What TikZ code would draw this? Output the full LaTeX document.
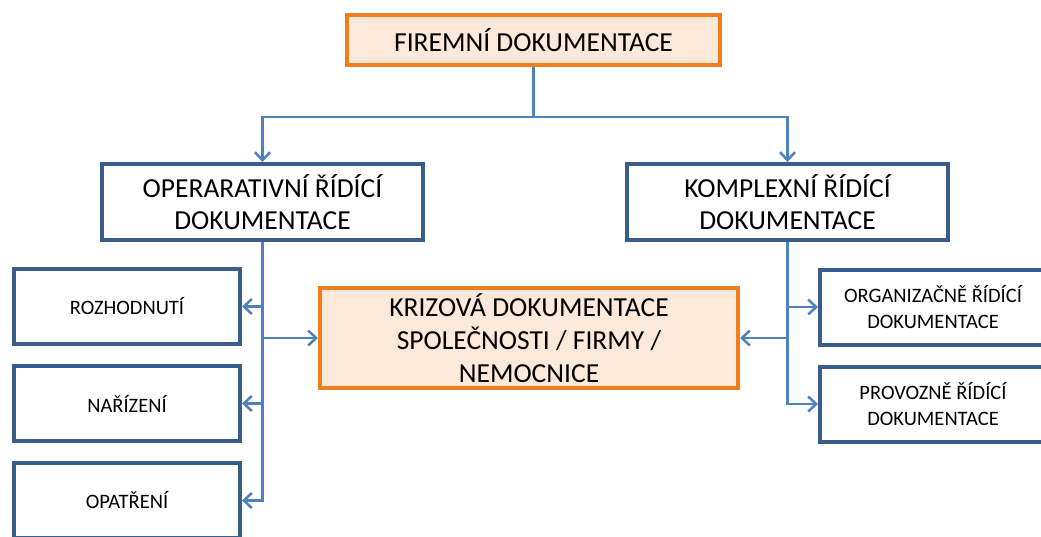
\documentclass[tikz,border=0pt]{standalone}
\usepackage{fontspec}
\setmainfont{Carlito}
\usetikzlibrary{arrows.meta,positioning}
\definecolor{boxblue}{HTML}{385D8A}
\definecolor{lineblue}{HTML}{4F81BD}
\definecolor{boxorange}{HTML}{EF7E1E}
\definecolor{peach}{HTML}{FDE9D9}
\tikzset{
    mainbox/.style={rectangle,draw=boxorange,fill=peach,line width=4pt,inner sep=0pt,align=center,
        font=\fontsize{27.5}{33}\selectfont},
    bigbox/.style={rectangle,draw=boxblue,line width=4pt,inner sep=0pt,align=center,
        minimum width=321pt,minimum height=76pt,font=\fontsize{27.5}{32}\selectfont},
    smallbox/.style={rectangle,draw=boxblue,line width=4pt,inner sep=0pt,align=center,
        minimum width=226pt,minimum height=75pt,font=\fontsize{20.5}{26}\selectfont},
    conn/.style={-{Straight Barb[length=8pt,width=15pt]},draw=lineblue,line width=2.5pt},
    bar/.style={-,draw=lineblue,line width=2.5pt}
}

\begin{document}
\begin{tikzpicture}[x=1pt,y=1pt]
    \useasboundingbox (0,0) rectangle (1041,-536);

    \node[mainbox,minimum width=373pt,minimum height=50pt] (firemni) at (533.5,-40) {FIREMNÍ DOKUMENTACE};

    \node[bigbox] (operativni) at (262.5,-202) {OPERARATIVNÍ ŘÍDÍCÍ\\DOKUMENTACE};
    \node[bigbox] (komplexni)  at (787.5,-202) {KOMPLEXNÍ ŘÍDÍCÍ\\DOKUMENTACE};

    \node[mainbox,minimum width=418pt,minimum height=100pt] (krizova) at (529,-338)
        {KRIZOVÁ DOKUMENTACE\\SPOLEČNOSTI / FIRMY /\\NEMOCNICE};

    \node[smallbox] (rozhodnuti) at (127,-306.5)      {ROZHODNUTÍ};
    \node[smallbox] (narizeni) [below=18pt of rozhodnuti] {NAŘÍZENÍ};
    \node[smallbox] (opatreni) [below=18pt of narizeni]   {OPATŘENÍ};

    \node[smallbox] (organizacne) at (933,-307)          {ORGANIZAČNĚ ŘÍDÍCÍ\\DOKUMENTACE};
    \node[smallbox] (provozne) [below=18pt of organizacne] {PROVOZNĚ ŘÍDÍCÍ\\DOKUMENTACE};

    \draw[bar]  (firemni.south) -- ++(0,-50) coordinate (split);
    \draw[conn] (split) -| (operativni.north);
    \draw[conn] (split) -| (komplexni.north);

    \draw[conn] (operativni.south) |- (opatreni.east);
    \draw[conn] (operativni.south |- rozhodnuti.east) -- (rozhodnuti.east);
    \draw[conn] (operativni.south |- narizeni.east)   -- (narizeni.east);
    \draw[conn] (operativni.south |- krizova.west)    -- (krizova.west);

    \draw[conn] (komplexni.south) |- (provozne.west);
    \draw[conn] (komplexni.south |- organizacne.west) -- (organizacne.west);
    \draw[conn] (komplexni.south |- krizova.east)     -- (krizova.east);
\end{tikzpicture}
\end{document}
